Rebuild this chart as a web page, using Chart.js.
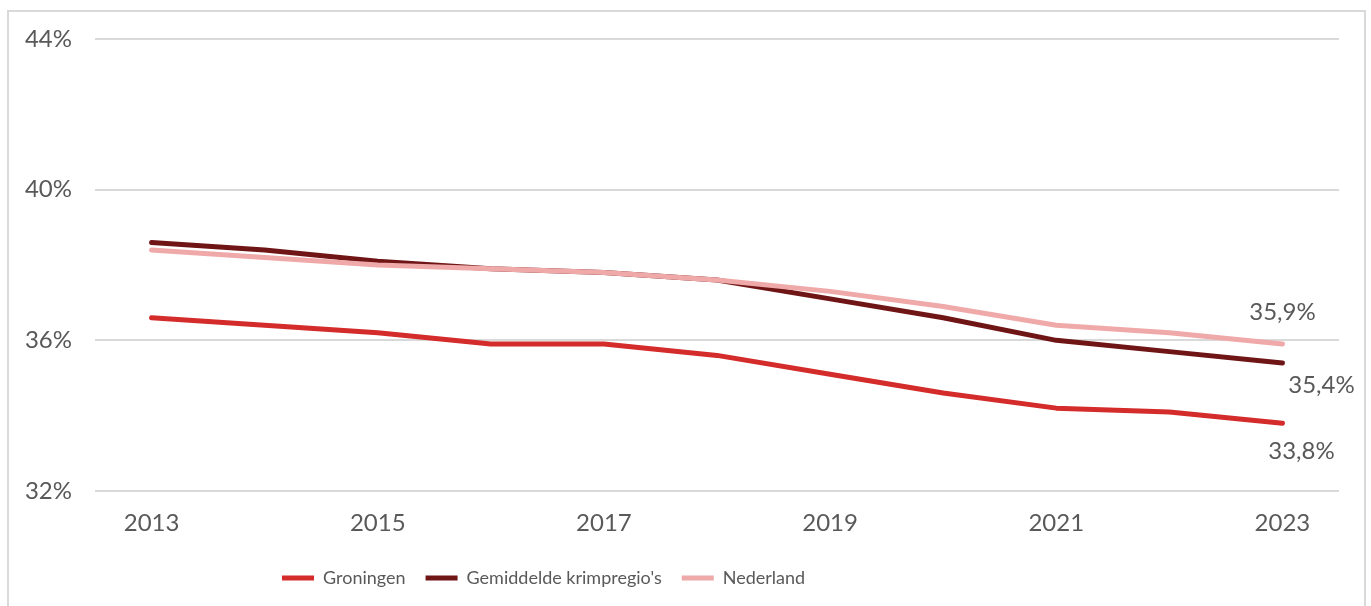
<!DOCTYPE html>
<html>
<head>
<meta charset="utf-8">
<script src="https://cdn.jsdelivr.net/npm/chart.js@4"></script>
<style>
    body { margin: 0; background: #fff; }
    #wrap { position: relative; width: 1371px; height: 606px; overflow: hidden; }
    #frame { position: absolute; left: 7px; top: 10px; width: 1359px; height: 620px; border: 2px solid #d9d9d9; box-sizing: border-box; }
    canvas { position: absolute; left: 0; top: 0; }
</style>
</head>
<body>
<div id="wrap">
    <div id="frame"></div>
    <canvas id="chart" width="1371" height="606"></canvas>
</div>
<script>
// --- DONNÉES ---
const years = ['2013', '2014', '2015', '2016', '2017', '2018', '2019', '2020', '2021', '2022', '2023'];
const groningen = [36.6, 36.4, 36.2, 35.9, 35.9, 35.6, 35.1, 34.6, 34.2, 34.1, 33.8];
const krimpregios = [38.6, 38.4, 38.1, 37.9, 37.8, 37.6, 37.1, 36.6, 36.0, 35.7, 35.4];
const nederland = [38.4, 38.2, 38.0, 37.9, 37.8, 37.6, 37.3, 36.9, 36.4, 36.2, 35.9];
const yTicks = [32, 36, 40, 44];

const textColor = '#595959';
const fontFamily = 'Lato, "Open Sans", sans-serif';

// étiquette de la dernière valeur de chaque série
const endLabels = {
    id: 'endLabels',
    afterDatasetsDraw(chart, args, opts) {
        const ctx = chart.ctx;
        ctx.save();
        ctx.font = `24px ${fontFamily}`;
        ctx.fillStyle = textColor;
        ctx.textAlign = 'center';
        ctx.textBaseline = 'middle';
        chart.data.datasets.forEach((ds, i) => {
            const meta = chart.getDatasetMeta(i);
            const last = meta.data[meta.data.length - 1];
            const v = ds.data[ds.data.length - 1];
            const off = opts.offsets[i];
            ctx.fillText(v.toFixed(1).replace('.', ',') + '%', last.x + off[0], last.y + off[1]);
        });
        ctx.restore();
    }
};

// légende décalée comme dans l'original
const legendShift = {
    id: 'legendShift',
    afterLayout(chart, args, opts) {
        const lg = chart.legend;
        const w = lg.right - lg.left;
        lg.left = opts.startX - lg.options.labels.padding;
        lg.right = lg.left + w;
    }
};

const line = (label, data, color, order) => ({
    label, data, order,
    borderColor: color,
    backgroundColor: color,
    borderWidth: 5,
    borderCapStyle: 'round',
    borderJoinStyle: 'round',
    pointRadius: 0,
    tension: 0
});

new Chart(document.getElementById('chart'), {
    type: 'line',
    data: {
        labels: years,
        datasets: [
            line('Groningen', groningen, '#d42b2b', 2),
            line("Gemiddelde krimpregio's", krimpregios, '#6f1515', 1),
            line('Nederland', nederland, '#f0a9a9', 0)
        ]
    },
    options: {
        responsive: false,
        animation: false,
        layout: { padding: { top: 39, right: 32, bottom: 9, left: 0 } },
        plugins: {
            tooltip: { enabled: false },
            legend: {
                position: 'bottom',
                align: 'start',
                labels: {
                    usePointStyle: true,
                    pointStyle: 'line',
                    pointStyleWidth: 32,
                    boxHeight: 4,
                    padding: 20,
                    color: textColor,
                    font: { family: fontFamily, size: 18 },
                    sort: (a, b) => a.datasetIndex - b.datasetIndex
                }
            },
            endLabels: { offsets: [[19, 28], [39, 22], [0, -32]] },
            legendShift: { startX: 282 }
        },
        scales: {
            x: {
                offset: true,
                grid: { display: false, drawTicks: false },
                border: { display: false },
                ticks: {
                    autoSkip: false,
                    maxRotation: 0,
                    padding: 18,
                    color: textColor,
                    font: { family: fontFamily, size: 24 },
                    callback: (v, i) => (i % 2 === 0 ? years[i] : '')
                },
                afterFit: s => { s.height = 58; }
            },
            y: {
                min: 32,
                max: 44,
                grid: { color: '#d9d9d9', lineWidth: 2, drawTicks: false },
                border: { display: false },
                afterBuildTicks: s => { s.ticks = yTicks.map(v => ({ value: v })); },
                ticks: {
                    padding: 23,
                    color: textColor,
                    font: { family: fontFamily, size: 24 },
                    callback: v => v + '%'
                },
                afterFit: s => { s.width = 95; }
            }
        }
    },
    plugins: [endLabels, legendShift]
});
</script>
</body>
</html>
